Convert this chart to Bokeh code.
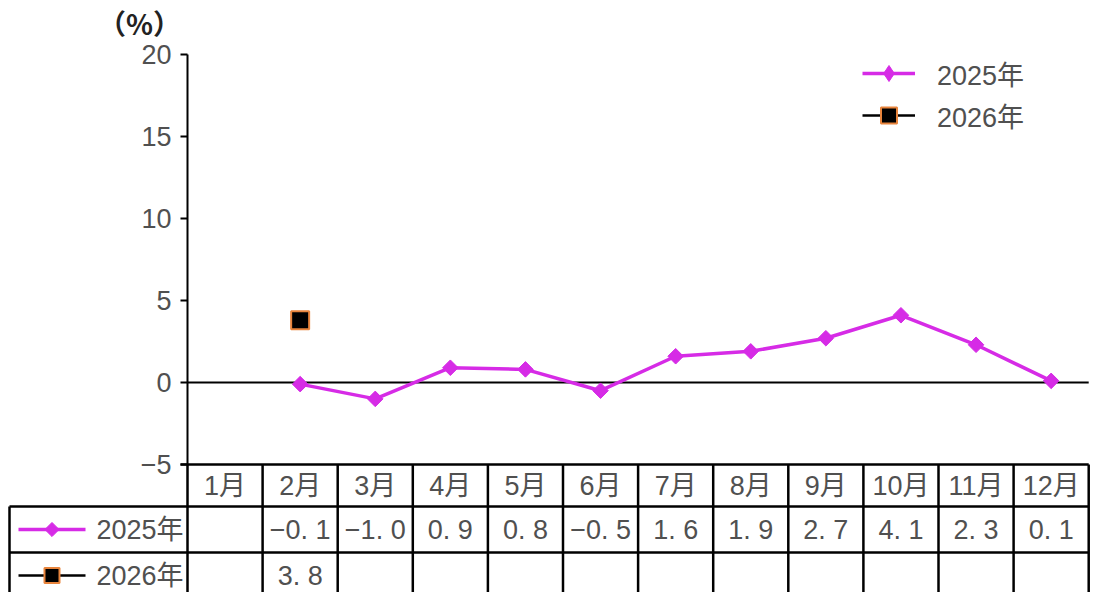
import numpy as np
from bokeh.plotting import figure
from bokeh.models import ColumnDataSource, Legend, LegendItem, Range1d
from bokeh.core.properties import value
from bokeh.embed import file_html
from bokeh.resources import INLINE

# ---------------- data ----------------
months = ["1月", "2月", "3月", "4月", "5月", "6月", "7月", "8月", "9月", "10月", "11月", "12月"]
series_names = ["2025年", "2026年"]
vals_2025 = [None, -0.1, -1.0, 0.9, 0.8, -0.5, 1.6, 1.9, 2.7, 4.1, 2.3, 0.1]
vals_2026 = [None, 3.8, None, None, None, None, None, None, None, None, None, None]
y_ticks = [-5, 0, 5, 10, 15, 20]
y_unit = "（%）"

# ---------------- layout constants (pixels) ----------------
W, H = 1094, 592
AX_PX = 187          # y-axis position from left of figure
CW = 75.1            # column width in px (one month)
Y0_PX = 382          # pixel row (from top) of value 0
PPU = 16.4           # pixels per percent unit
HDR_H, ROW_H = 42, 46

MAG = "#D62BE6"
ORANGE = "#E8843C"
GRAY = "#505050"
FONT_NAME = "Liberation Sans, Noto Sans CJK SC"
FONT = value(FONT_NAME)
FS = "27px"
FSTYLE = "normal"

def dx(px):
    return px / CW

def dy(px):
    return px / PPU

x_start = 0.5 - dx(AX_PX)
x_end = 0.5 + dx(W - AX_PX)
y_end = dy(Y0_PX)
y_start = dy(Y0_PX - H)

p = figure(width=W, height=H, output_backend="svg", toolbar_location=None,
           x_range=Range1d(x_start, x_end), y_range=Range1d(y_start, y_end),
           x_axis_type=None, y_axis_type=None, min_border=0)
p.grid.visible = False
p.outline_line_color = None
p.background_fill_color = "white"
p.border_fill_color = "white"

n = len(months)
xs = np.arange(1, n + 1, dtype=float)
ymin, ymax = y_ticks[0], y_ticks[-1]
x_left_axis = 0.5
x_right = n + 0.5

txt = dict(text_font_size=FS, text_color=GRAY, text_font=FONT, text_font_style=FSTYLE,
           text_baseline="middle")

# ---------------- y axis ----------------
p.segment(x0=[x_left_axis], y0=[ymin], x1=[x_left_axis], y1=[ymax], line_color="black", line_width=2)
p.segment(x0=[x_left_axis - dx(7)] * len(y_ticks), y0=y_ticks,
          x1=[x_left_axis] * len(y_ticks), y1=y_ticks, line_color="black", line_width=2)
p.text(x=[x_left_axis - dx(16)] * len(y_ticks), y=y_ticks,
       text=[str(t).replace("-", "−") for t in y_ticks], text_align="right", **txt)
p.text(x=[x_left_axis - dx(48)], y=[ymax + dy(32)], text=[y_unit], text_align="center",
       text_baseline="middle", text_font_size="28px", text_color="#222222",
       text_font=value("Noto Sans CJK SC"), text_font_style="bold")

# zero line
p.segment(x0=[x_left_axis], y0=[0], x1=[x_right], y1=[0], line_color="black", line_width=2)

# ---------------- series ----------------
y25 = np.array([np.nan if v is None else v for v in vals_2025])
y26 = np.array([np.nan if v is None else v for v in vals_2026])
src25 = ColumnDataSource(dict(x=xs, y=y25))
src26 = ColumnDataSource(dict(x=xs, y=y26))

l25 = p.line("x", "y", source=src25, line_color=MAG, line_width=3.5)
m25 = p.scatter("x", "y", source=src25, marker="square", angle=np.pi / 4, size=11,
                fill_color=MAG, line_color=MAG)
m25_leg = p.scatter("x", "y", source=src25, marker="diamond", size=16,
                    fill_color=MAG, line_color=MAG, visible=False)
l26 = p.line("x", "y", source=src26, line_color="black", line_width=2.5)
m26 = p.scatter("x", "y", source=src26, marker="square", size=18,
                fill_color="black", line_color=ORANGE, line_width=2)

# ---------------- table ----------------
t_top = ymin
t_hdr = t_top - dy(HDR_H)
t_r1 = t_hdr - dy(ROW_H)
t_r2 = t_r1 - dy(ROW_H + 8)
x_tbl_left = x_start + dx(9)
col_bounds = [0.5 + k for k in range(n + 1)]

# horizontal lines
hx0 = [x_left_axis - dx(7), x_tbl_left, x_tbl_left, x_tbl_left]
hx1 = [x_right, x_right, x_right, x_right]
hy = [t_top, t_hdr, t_r1, t_r2]
p.segment(x0=hx0, y0=hy, x1=hx1, y1=hy, line_color="black", line_width=2.5)
# vertical lines
vx = col_bounds + [x_tbl_left]
vy0 = [t_top] * len(col_bounds) + [t_hdr]
vy1 = [t_r2] * len(vx)
p.segment(x0=vx, y0=vy0, x1=vx, y1=vy1, line_color="black", line_width=2.5)

# header texts
p.text(x=xs, y=[(t_top + t_hdr) / 2] * n, text=months, text_align="center", **txt)

def fmt(v):
    return "" if v is None else f"{v:.1f}".replace("-", "−").replace(".", ". ")

row_y = [(t_hdr + t_r1) / 2, t_r1 - dy(23)]
for vals, ry in zip([vals_2025, vals_2026], row_y):
    p.text(x=xs, y=[ry] * n, text=[fmt(v) for v in vals], text_align="center", **txt)

# row label icons and names
lab_x = x_left_axis - dx(4)
p.text(x=[lab_x, lab_x], y=row_y, text=series_names, text_align="right", **txt)
ic0 = x_start + dx(18)
ic1 = x_start + dx(85)
icc = (ic0 + ic1) / 2
p.segment(x0=[ic0], y0=[row_y[0]], x1=[ic1], y1=[row_y[0]], line_color=MAG, line_width=3.5)
p.scatter(x=[icc], y=[row_y[0]], marker="square", angle=np.pi / 4, size=10, fill_color=MAG, line_color=MAG)
p.segment(x0=[ic0], y0=[row_y[1]], x1=[ic1], y1=[row_y[1]], line_color="black", line_width=2.5)
p.scatter(x=[icc], y=[row_y[1]], marker="square", size=15, fill_color="black", line_color=ORANGE, line_width=2)

# ---------------- legend ----------------
legend = Legend(items=[LegendItem(label=series_names[0], renderers=[l25, m25_leg]),
                       LegendItem(label=series_names[1], renderers=[l26, m26])],
                location=(862, 457), orientation="vertical",
                glyph_width=53, glyph_height=40, label_height=40, spacing=2,
                label_standoff=22, padding=0, margin=0,
                border_line_color=None, background_fill_alpha=0,
                label_text_font_size=FS, label_text_color=GRAY,
                label_text_font=FONT_NAME, label_text_font_style=FSTYLE)
p.add_layout(legend, "center")

open("out.html", "w").write(file_html(p, INLINE))
